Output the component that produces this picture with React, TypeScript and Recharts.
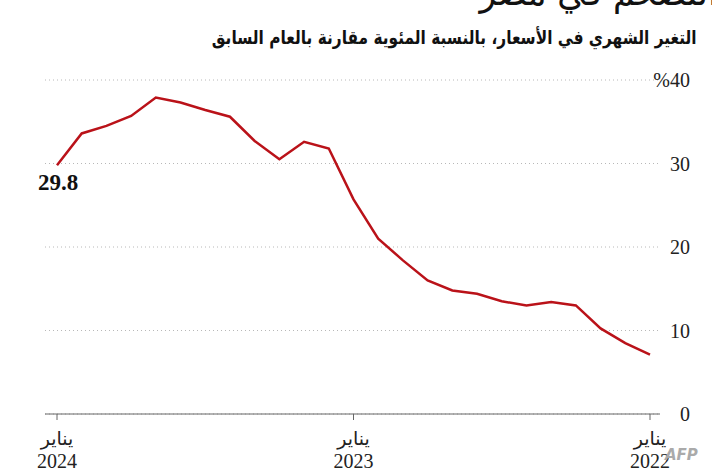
import React from 'react';
import { LineChart, Line, XAxis, YAxis, CartesianGrid } from 'recharts';

// monthly, Jan 2022 -> Jan 2024 (axis is drawn reversed, newest on the left)
const months = [
  '2022-01', '2022-02', '2022-03', '2022-04', '2022-05', '2022-06', '2022-07', '2022-08', '2022-09', '2022-10', '2022-11', '2022-12',
  '2023-01', '2023-02', '2023-03', '2023-04', '2023-05', '2023-06', '2023-07', '2023-08', '2023-09', '2023-10', '2023-11', '2023-12',
  '2024-01',
];
const inflation = [
  7.1, 8.5, 10.25, 13.0, 13.4, 13.0, 13.5, 14.4, 14.8, 16.0, 18.4, 21.0,
  25.7, 31.8, 32.6, 30.5, 32.7, 35.6, 36.4, 37.3, 37.9, 35.7, 34.5, 33.6,
  29.8,
];
const yTicks = [0, 10, 20, 30, 40];
const monthLabel = 'يناير';
const title = 'التضخم في مصر';
const subtitle = 'التغير الشهري في الأسعار، بالنسبة المئوية مقارنة بالعام السابق';
const highlightMonth = '2024-01';

const data = months.map((m, i) => ({ month: m, value: inflation[i] }));

const SERIF = '"Liberation Serif", "DejaVu Serif", serif';
const ARABIC = '"DejaVu Sans", "Noto Sans", sans-serif';

const MonthTick = ({ x, y, payload }: any) => (
  <g>
    <text x={x} y={y + 23} textAnchor="middle" fontFamily={ARABIC} fontSize={19} fill="#222">{monthLabel}</text>
    <text x={x} y={y + 46} textAnchor="middle" fontFamily={SERIF} fontSize={20} fill="#222">{payload.value.slice(0, 4)}</text>
  </g>
);

const ValueTick = ({ y, payload }: any) => (
  <text x={690} y={y + 7} textAnchor="end" fontFamily={SERIF} fontSize={20} fill="#222">
    {payload.value === 40 ? '%40' : payload.value}
  </text>
);

const EndLabel = ({ x, y, index }: any) => {
  if (months[index] !== highlightMonth) return null;
  return (
    <text x={x + 1} y={y + 25} textAnchor="middle" fontFamily={SERIF} fontSize={23} fontWeight={700} fill="#111">
      {inflation[index]}
    </text>
  );
};

export default function App() {
  return (
    <div style={{ position: 'absolute', left: 0, top: 0, width: 712, height: 470, background: '#fff', overflow: 'hidden' }}>
      <div style={{ position: 'absolute', right: -6, top: -28, direction: 'rtl', fontFamily: ARABIC, fontSize: 36, color: '#111', whiteSpace: 'nowrap', transform: 'scaleX(0.95)', transformOrigin: 'right center' }}>
        {title}
      </div>
      <div
        style={{
          position: 'absolute', right: 15, top: 26, direction: 'rtl', fontFamily: ARABIC, fontSize: 19, fontWeight: 700,
          color: '#111', whiteSpace: 'nowrap', transform: 'scaleX(0.81)', transformOrigin: 'right center',
        }}
      >
        {subtitle}
      </div>
      <LineChart width={712} height={470} data={data} margin={{ top: 80, right: 0, bottom: 0, left: 45 }}>
        <CartesianGrid vertical={false} stroke="#b8b8b8" strokeDasharray="1 3" />
        <XAxis
          dataKey="month"
          reversed
          interval={11}
          padding={{ left: 12, right: 10 }}
          height={56}
          axisLine={{ stroke: '#666' }}
          tickLine={{ stroke: '#666' }}
          tickSize={6}
          tick={<MonthTick />}
        />
        <YAxis
          orientation="right"
          domain={[0, 40]}
          ticks={yTicks}
          width={52}
          axisLine={false}
          tickLine={false}
          tick={<ValueTick />}
        />
        <Line
          type="linear"
          dataKey="value"
          stroke="#ba1219"
          strokeWidth={2.5}
          dot={false}
          label={<EndLabel />}
          isAnimationActive={false}
        />
      </LineChart>
      <div style={{ position: 'absolute', left: 665, top: 446, fontFamily: ARABIC, fontSize: 15, fontStyle: 'italic', fontWeight: 700, color: '#aaa' }}>
        AFP
      </div>
    </div>
  );
}
